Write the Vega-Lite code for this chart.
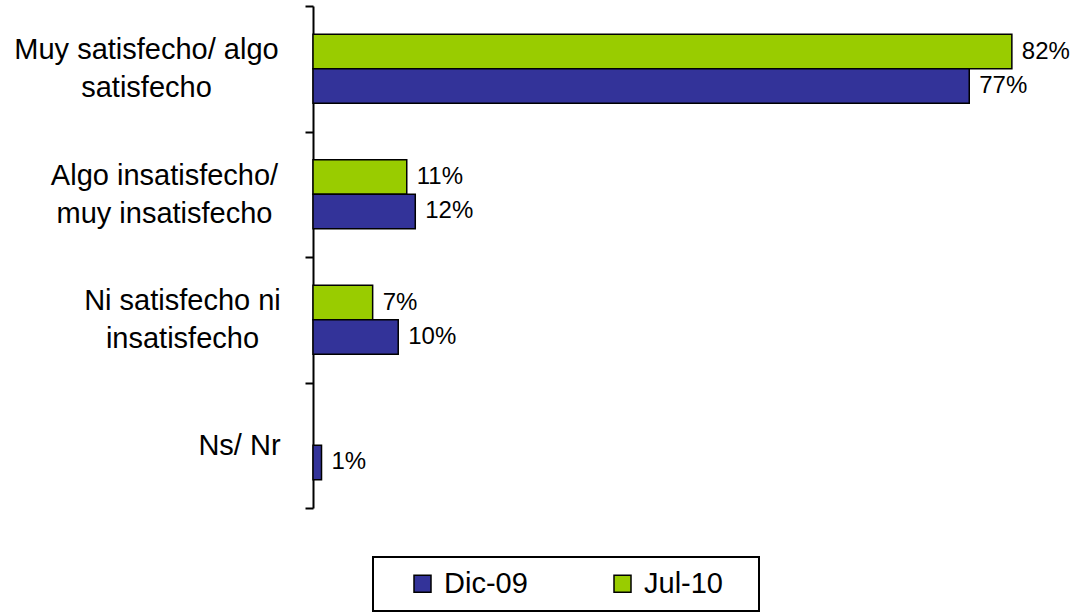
{
  "$schema": "https://vega.github.io/schema/vega-lite/v6.json",
  "width": 750,
  "height": 502,
  "autosize": {"type": "none"},
  "padding": {"left": 313, "top": 6, "right": 12, "bottom": 104},
  "background": "white",
  "config": {"view": {"stroke": null}, "font": "Liberation Sans", "legend": {"strokeWidth": 2}},
  "data": {
    "values": [
      {"category": "Muy satisfecho/ algo satisfecho", "period": "Jul-10", "value": 0.82},
      {"category": "Muy satisfecho/ algo satisfecho", "period": "Dic-09", "value": 0.77},
      {"category": "Algo insatisfecho/ muy insatisfecho", "period": "Jul-10", "value": 0.11},
      {"category": "Algo insatisfecho/ muy insatisfecho", "period": "Dic-09", "value": 0.12},
      {"category": "Ni satisfecho ni insatisfecho", "period": "Jul-10", "value": 0.07},
      {"category": "Ni satisfecho ni insatisfecho", "period": "Dic-09", "value": 0.10},
      {"category": "Ns/ Nr", "period": "Dic-09", "value": 0.01}
    ]
  },
  "encoding": {
    "y": {
      "field": "category",
      "type": "nominal",
      "sort": ["Muy satisfecho/ algo satisfecho", "Algo insatisfecho/ muy insatisfecho", "Ni satisfecho ni insatisfecho", "Ns/ Nr"],
      "scale": {"paddingInner": 0, "paddingOuter": 0},
      "axis": {
        "title": null,
        "domainColor": "black",
        "domainWidth": 2,
        "tickColor": "black",
        "tickWidth": 2,
        "tickSize": 8,
        "tickBand": "extent",
        "labelFont": "Liberation Sans",
        "labelFontSize": 29,
        "labelColor": "black",
        "labelLineHeight": 38,
        "labelAlign": "center",
        "labelBaseline": "middle",
        "labelLimit": 400,
        "labelOffset": {
          "condition": {"test": "datum.value !== 'Ns/ Nr'", "value": -19},
          "value": 0
        },
        "labelPadding": {
          "condition": [
            {"test": "datum.value === 'Muy satisfecho/ algo satisfecho'", "value": 159},
            {"test": "datum.value === 'Algo insatisfecho/ muy insatisfecho'", "value": 141},
            {"test": "datum.value === 'Ni satisfecho ni insatisfecho'", "value": 123}
          ],
          "value": 66
        },
        "labelExpr": "datum.value == 'Muy satisfecho/ algo satisfecho' ? ['Muy satisfecho/ algo', 'satisfecho'] : datum.value == 'Algo insatisfecho/ muy insatisfecho' ? ['Algo insatisfecho/', 'muy insatisfecho'] : datum.value == 'Ni satisfecho ni insatisfecho' ? ['Ni satisfecho ni', 'insatisfecho'] : datum.label"
      }
    },
    "yOffset": {
      "field": "period",
      "type": "nominal",
      "sort": ["Jul-10", "Dic-09"],
      "scale": {"domain": ["Jul-10", "Dic-09"], "paddingInner": 0, "paddingOuter": 0.82}
    },
    "x": {
      "field": "value",
      "type": "quantitative",
      "scale": {"domain": [0, 0.88], "nice": false},
      "axis": null
    }
  },
  "layer": [
    {
      "mark": {"type": "bar", "stroke": "black", "strokeWidth": 1.5},
      "encoding": {
        "color": {
          "field": "period",
          "type": "nominal",
          "scale": {"domain": ["Dic-09", "Jul-10"], "range": ["#333399", "#99CC00"]},
          "legend": {
            "title": ".",
            "titleOrient": "right",
            "titleColor": "white",
            "titleFontSize": 8,
            "titlePadding": 21,
            "orient": "none",
            "legendX": 60,
            "legendY": 551,
            "direction": "horizontal",
            "symbolType": "square",
            "symbolSize": 289,
            "symbolStrokeColor": "black",
            "symbolStrokeWidth": 1.5,
            "symbolFillOpacity": 1,
            "symbolOffset": 23,
            "labelFont": "Liberation Sans",
            "labelFontSize": 29,
            "labelColor": "black",
            "labelOffset": 7,
            "columnPadding": 57,
            "padding": 12,
            "strokeColor": "black"
          }
        }
      }
    },
    {
      "mark": {"type": "text", "align": "left", "baseline": "middle", "dx": 10, "fontSize": 24, "font": "Liberation Sans", "color": "black"},
      "encoding": {"text": {"field": "value", "type": "quantitative", "format": ".0%"}}
    }
  ]
}
